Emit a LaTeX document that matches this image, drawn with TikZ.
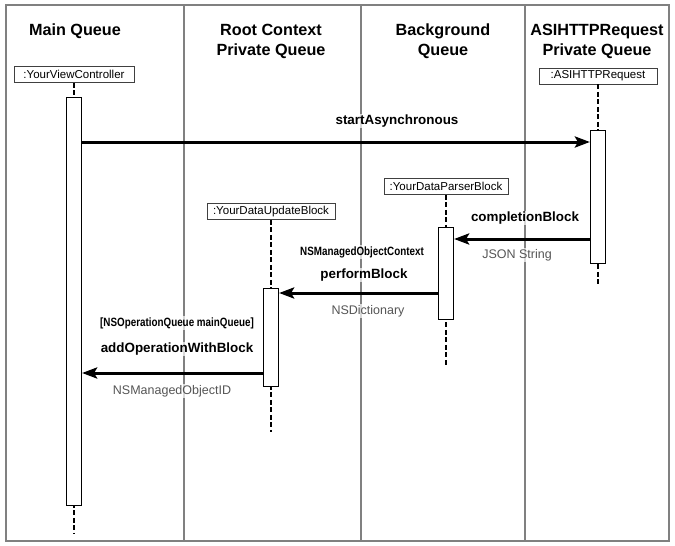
\documentclass[tikz,border=0pt]{standalone}
\usepackage{fontspec}
\setmainfont{Liberation Sans}
\newfontfamily\condfont{Liberation Sans}[FakeStretch=0.82]
\usetikzlibrary{arrows.meta}
\definecolor{framegray}{HTML}{808080}
\definecolor{labelgray}{HTML}{555555}
\begin{document}
\begin{tikzpicture}[x=1pt,y=-1pt,
  frame/.style={draw=framegray,line width=1.5pt},
  divider/.style={draw=framegray,line width=1.3pt},
  header/.style={font=\fontsize{16.2}{20}\selectfont\bfseries,align=center,inner sep=0pt,anchor=north},
  objbox/.style={draw=black!75,line width=0.8pt,fill=white,inner sep=0pt,minimum height=16pt,font=\fontsize{11.5}{13}\selectfont},
  actbar/.style={draw=black,line width=1.2pt,fill=white,inner sep=0pt,minimum width=15pt,anchor=north},
  lifeline/.style={draw=black,line width=2pt,dash pattern=on 5pt off 2.5pt},
  msg/.style={draw=black,line width=3pt,-{Stealth[length=15pt,width=11pt,inset=3pt]}},
  lbl/.style={inner sep=1pt,fill=white,fill opacity=0.7,text opacity=1},
  boldlbl/.style={lbl,font=\fontsize{13.4}{15}\selectfont\bfseries},
  condlbl/.style={lbl,font=\fontsize{12}{14}\selectfont\condfont\bfseries},
  graylbl/.style={lbl,text=labelgray,font=\fontsize{12.5}{14}\selectfont}
]
\useasboundingbox (0,0) rectangle (675,546);
% frame and swimlanes
\draw[frame] (6,5) rectangle (669,541);
\draw[divider] (184,5) -- (184,541);
\draw[divider] (361,5) -- (361,541);
\draw[divider] (525,5) -- (525,541);
% headers
\node[header] (h1) at (75,23.5) {Main Queue};
\node[header] (h2) at (271,23.5) {Root Context\\Private Queue};
\node[header] (h3) at (443,23.5) {Background\\Queue};
\node[header] (h4) at (597,23.5) {ASIHTTPRequest\\Private Queue};
% object boxes
\node[objbox,minimum width=120pt] (vc) at (74,74.5) {:YourViewController};
\node[objbox,minimum width=118pt] (asi) at (598,76) {:ASIHTTPRequest};
\node[objbox,minimum width=124pt] (parser) at (446,186.5) {:YourDataParserBlock};
\node[objbox,minimum width=128pt] (update) at (271,211.5) {:YourDataUpdateBlock};
% lifeline ends
\coordinate (vcend) at (74,534);
\coordinate (asiend) at (598,286);
\coordinate (parserend) at (446,367);
\coordinate (updateend) at (271,432);
\draw[lifeline] (vc.south) -- (vcend);
\draw[lifeline] (asi.south) -- (asiend);
\draw[lifeline] (parser.south) -- (parserend);
\draw[lifeline] (update.south) -- (updateend);
% activation bars
\node[actbar,minimum height=408pt] (vcbar) at (74,97) {};
\node[actbar,minimum height=133pt] (asibar) at (598,130) {};
\node[actbar,minimum height=92pt] (parserbar) at (446,227) {};
\node[actbar,minimum height=98pt] (updatebar) at (271,288) {};
% message levels
\coordinate (m1) at (0,142);
\coordinate (m2) at (0,239);
\coordinate (m3) at (0,293);
\coordinate (m4) at (0,373);
% messages
\draw[msg] (vcbar.east |- m1) -- (asibar.west |- m1);
\draw[msg] (asibar.west |- m2) -- (parserbar.east |- m2);
\draw[msg] (parserbar.west |- m3) -- (updatebar.east |- m3);
\draw[msg] (updatebar.west |- m4) -- (vcbar.east |- m4);
% labels
\node[boldlbl] (l1) at (397,121) {startAsynchronous};
\node[boldlbl] (l2) at (525,218) {completionBlock};
\node[graylbl] (l3) at (517,255) {JSON String};
\node[condlbl] (l4) at (362,252) {NSManagedObjectContext};
\node[boldlbl] (l5) at (364,275) {performBlock};
\node[graylbl] (l6) at (368,311) {NSDictionary};
\node[condlbl] (l7) at (177,323) {[NSOperationQueue mainQueue]};
\node[boldlbl] (l8) at (177,349) {addOperationWithBlock};
\node[graylbl] (l9) at (172,391) {NSManagedObjectID};
\end{tikzpicture}
\end{document}
